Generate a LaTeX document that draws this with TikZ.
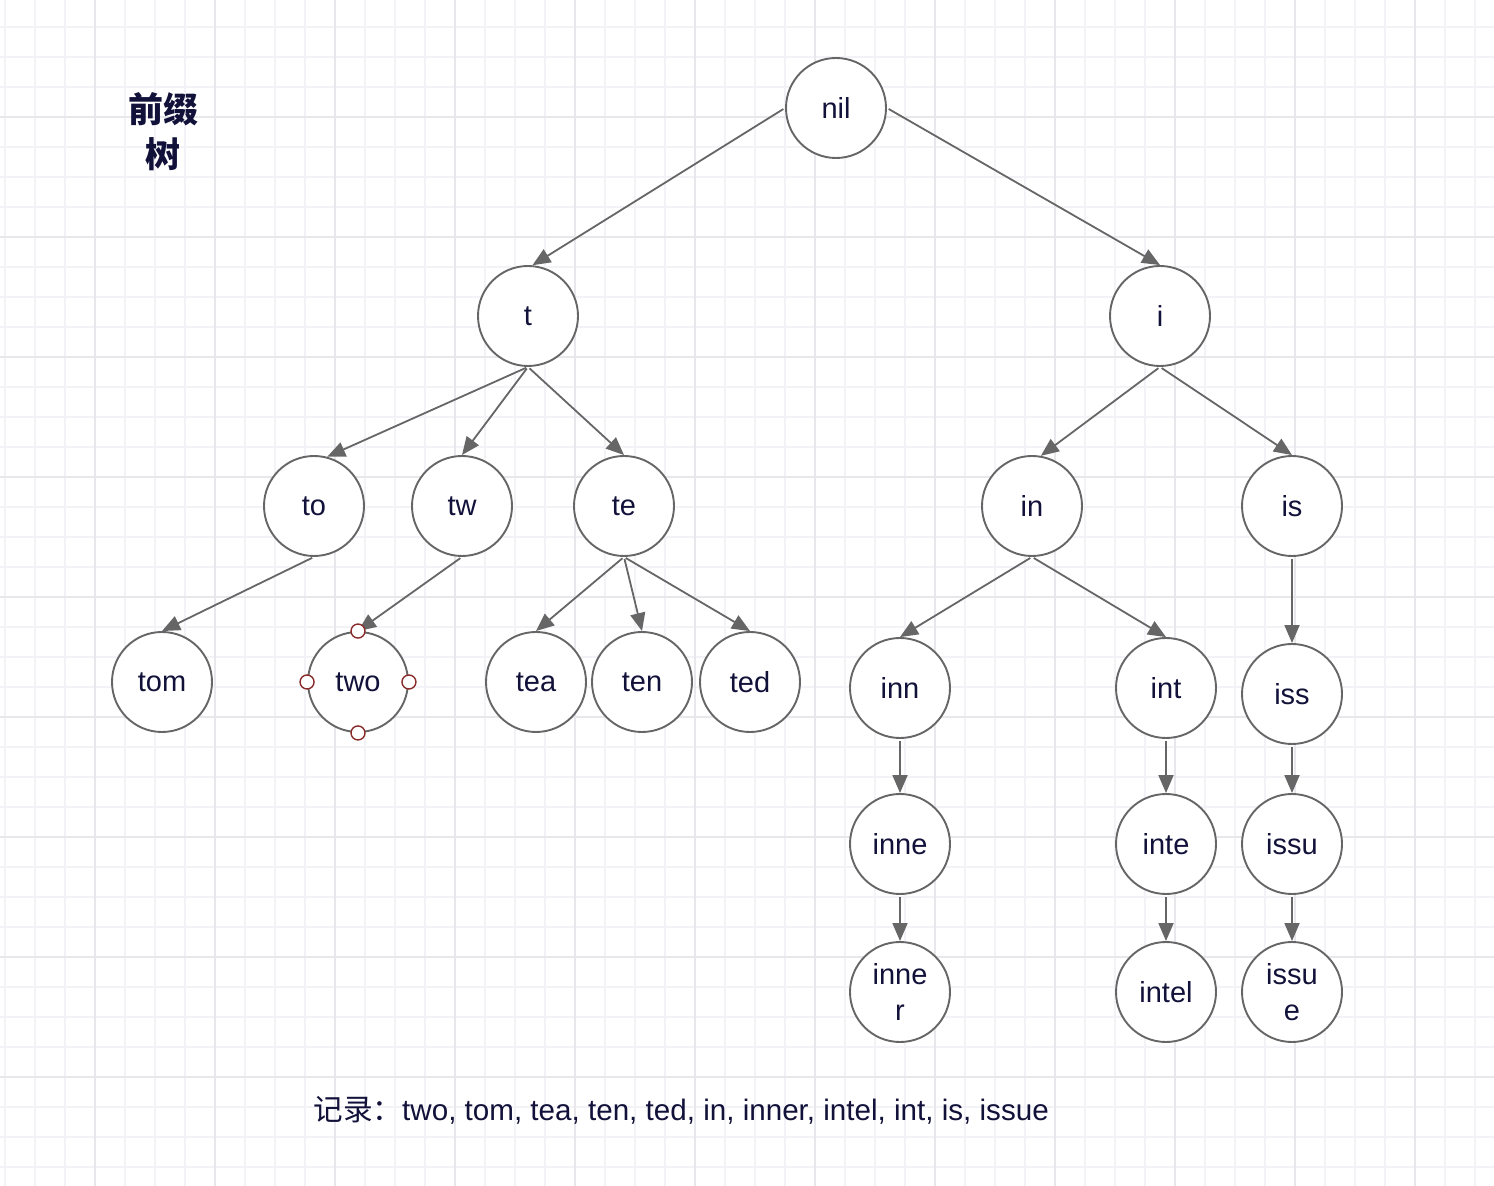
\documentclass[tikz,border=0pt]{standalone}
\usepackage{fontspec}
\setmainfont{Liberation Sans}
\newfontfamily\cjk{Noto Sans CJK SC}
\usepackage[HTML]{xcolor}
\usepackage{tikz}
\usetikzlibrary{positioning, arrows.meta}

\definecolor{gridminor}{HTML}{F3F3F7}
\definecolor{gridmajor}{HTML}{E7E7EC}
\definecolor{inkline}{HTML}{666666}
\definecolor{inktext}{HTML}{11113A}
\definecolor{handle}{HTML}{8B2A2A}

\tikzset{
  trienode/.style={circle, draw=inkline, line width=0.95pt, fill=white,
    minimum size=50pt, inner sep=0pt, text=inktext, align=center,
    font=\fontsize{14.5}{18}\selectfont},
  link/.style={draw=inkline, line width=0.9pt,
    -{Triangle[length=9pt,width=7.5pt]}, shorten <=1pt},
  handlept/.style={circle, draw=handle, line width=0.7pt, fill=white,
    minimum size=7pt, inner sep=0pt}
}

\begin{document}
\begin{tikzpicture}[x=0.5pt, y=-0.5pt]
\useasboundingbox (0,0) rectangle (1494,1186);
\fill[white] (0,0) rectangle (1494,1186);

% --- Grid background ---
\foreach \gx in {5,35,...,1494} \draw[gridminor, line width=0.6pt] (\gx,0)--(\gx,1186);
\foreach \gy in {27,57,...,1186} \draw[gridminor, line width=0.6pt] (0,\gy)--(1494,\gy);
\foreach \gx in {95,215,...,1494} \draw[gridmajor, line width=0.7pt] (\gx,0)--(\gx,1186);
\foreach \gy in {117,237,...,1186} \draw[gridmajor, line width=0.7pt] (0,\gy)--(1494,\gy);

% --- Title ---
\node[text=inktext, align=center, font=\cjk\bfseries\fontsize{17.5}{22.5}\selectfont]
  (title) at (163,132) {前缀\\树};

% --- Root and first level ---
\node[trienode] (nil) at (836,108) {nil};
\node[trienode] (t) at (528,316) {t};
\node[trienode] (i) at (1160,316) {i};

% --- Second level ---
\node[trienode] (to) at (314,506) {to};
\node[trienode] (tw) at (462,506) {tw};
\node[trienode] (te) at (624,506) {te};
\node[trienode] (in) at (1032,506) {in};
\node[trienode] (is) at (1292,506) {is};

% --- Third level ---
\node[trienode] (tom) at (162,682) {tom};
\node[trienode] (two) at (358,682) {two};
\node[trienode] (tea) at (536,682) {tea};
\node[trienode] (ten) at (642,682) {ten};
\node[trienode] (ted) at (750,682) {ted};
\node[trienode] (inn) at (900,688) {inn};
\node[trienode] (int) at (1166,688) {int};
\node[trienode] (iss) at (1292,694) {iss};

% --- Deeper levels ---
\node[trienode] (inne) at (900,844) {inne};
\node[trienode] (inte) at (1166,844) {inte};
\node[trienode] (issu) at (1292,844) {issu};
\node[trienode] (inner) at (900,992) {inne\\r};
\node[trienode] (intel) at (1166,992) {intel};
\node[trienode] (issue) at (1292,992) {issu\\e};

% --- Edges ---
\draw[link] (nil.west) -- (t.85);
\draw[link] (nil.east) -- (i.north);
\draw[link] (t.south) -- (to.75);
\draw[link] (t.south) -- (tw.north);
\draw[link] (t.south) -- (te.north);
\draw[link] (i.south) -- (in.80);
\draw[link] (i.south) -- (is.north);
\draw[link] (to.south) -- (tom.north);
\draw[link] (tw.south) -- (two.north);
\draw[link] (te.south) -- (tea.north);
\draw[link] (te.south) -- (ten.north);
\draw[link] (te.south) -- (ted.north);
\draw[link] (in.south) -- (inn.north);
\draw[link] (in.south) -- (int.north);
\draw[link] (is.south) -- (iss.north);
\draw[link] (inn.south) -- (inne.north);
\draw[link] (inne.south) -- (inner.north);
\draw[link] (int.south) -- (inte.north);
\draw[link] (inte.south) -- (intel.north);
\draw[link] (iss.south) -- (issu.north);
\draw[link] (issu.south) -- (issue.north);

% --- Selection handles on two ---
\foreach \side in {north, south, east, west}
  \node[handlept] (two-\side) at (two.\side) {};

% --- Record line ---
\node[anchor=west, text=inktext, inner sep=0pt, font=\fontsize{14.8}{18}\selectfont]
  (record) at (313,1110) {{\cjk 记录：}two, tom, tea, ten, ted, in, inner, intel, int, is, issue};
\end{tikzpicture}
\end{document}
